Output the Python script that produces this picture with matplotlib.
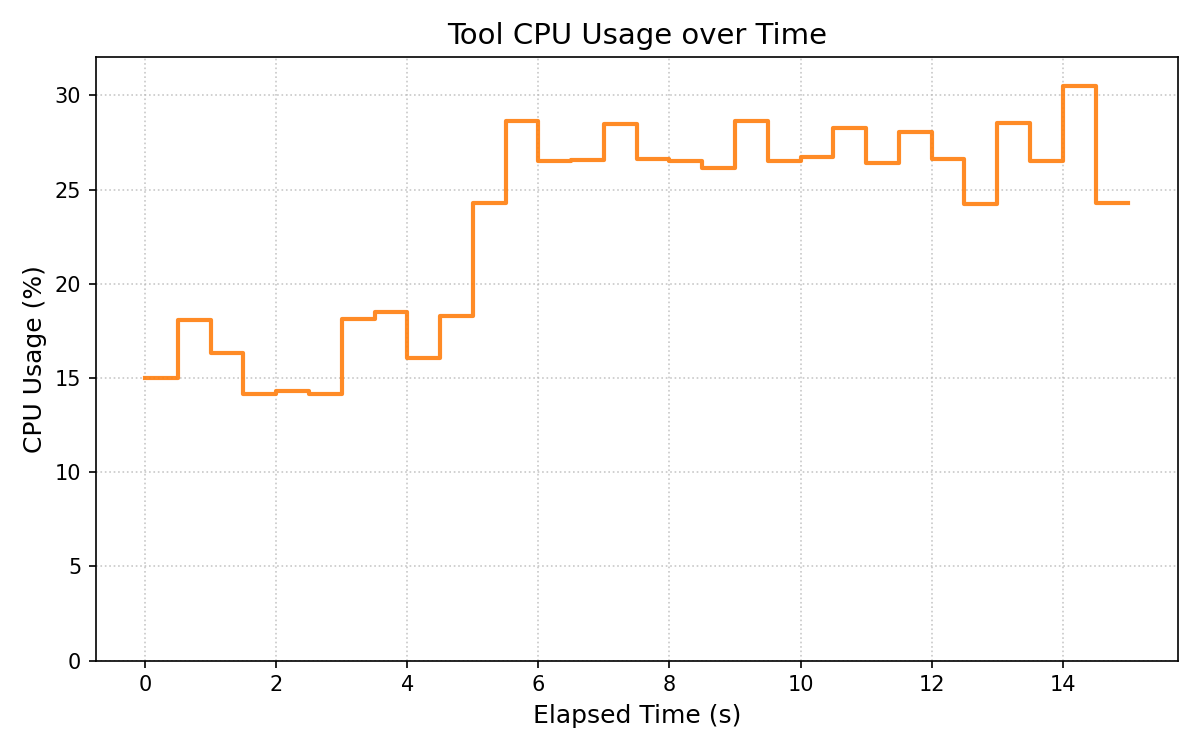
import matplotlib
matplotlib.use("Agg")
import matplotlib.pyplot as plt

time_s = [0.0, 0.5, 1.0, 1.5, 2.0, 2.5, 3.0, 3.5, 4.0, 4.5, 5.0, 5.5, 6.0, 6.5, 7.0, 7.5,
          8.0, 8.5, 9.0, 9.5, 10.0, 10.5, 11.0, 11.5, 12.0, 12.5, 13.0, 13.5, 14.0, 14.5, 15.0]
cpu_pct = [15.0, 18.08, 16.31, 14.17, 14.29, 14.17, 18.14, 18.52, 16.08, 18.3, 24.29, 28.65,
           26.49, 26.56, 28.46, 26.6, 26.54, 26.15, 28.65, 26.54, 26.73, 28.28, 26.42, 28.03,
           26.6, 24.23, 28.51, 26.49, 30.51, 24.29, 24.29]

fig, ax = plt.subplots(figsize=(8, 5), dpi=150)
ax.step(time_s, cpu_pct, where="post", color="tab:orange", alpha=0.9, linewidth=2.0)
ax.set_title("Tool CPU Usage over Time", fontsize=14)
ax.set_xlabel("Elapsed Time (s)", fontsize=12)
ax.set_ylabel("CPU Usage (%)", fontsize=12)
ax.set_ylim(0, max(cpu_pct) * 1.05)
ax.grid(True, linestyle=":", color="#bbbbbb", alpha=0.8)
fig.tight_layout()
fig.savefig("out.png", dpi=150)
